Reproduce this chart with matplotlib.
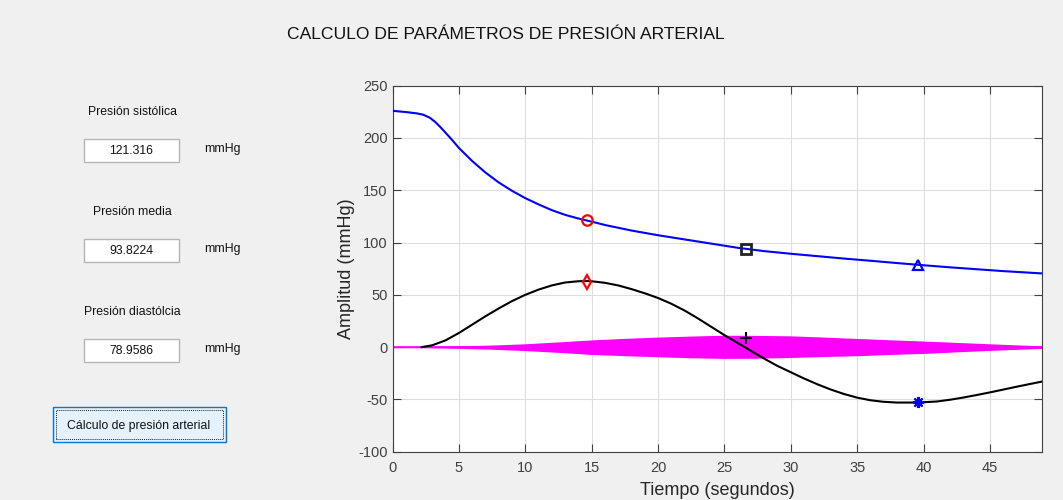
import matplotlib
matplotlib.use("Agg")
import matplotlib.pyplot as plt
from matplotlib.patches import Rectangle

plt.rcParams['font.family'] = ['Liberation Sans', 'DejaVu Sans']
plt.rcParams['axes.unicode_minus'] = False

# Cuff pressure (blue), time in seconds
t_cuff = [0, 1, 1.8, 2.3, 2.8, 3.2, 3.6, 4, 4.5, 5, 6, 7, 8, 9, 10, 11, 12, 13, 14, 15,
          16, 18, 20, 22, 24, 26, 28, 30, 32, 34, 36, 38, 40, 42, 44, 46, 48.9]
p_cuff = [226, 224.8, 223.6, 222.3, 219.5, 215.5, 210.5, 205, 198, 190.5, 178, 167,
          157.5, 149.5, 142.5, 136.5, 131, 126.5, 123, 120, 116.8, 111.5, 107, 103, 99,
          95, 91.8, 89.3, 87, 84.7, 82.6, 80.4, 78.3, 76.3, 74.5, 72.7, 70.5]

# Smoothed oscillation curve (black)
t_osc = [2.2, 3, 4, 5, 6, 7, 8, 9, 10, 11, 12, 13, 14, 14.6, 15, 16, 17, 18, 19,
         20, 21, 22, 23, 24, 25, 26, 27, 28, 29, 30, 31, 32, 33, 34, 35, 36, 37,
         38, 39.5, 41, 42, 43, 44, 45, 46, 47, 48, 48.9]
v_osc = [0, 1.8, 6.5, 13.5, 21.5, 29.5, 37, 44, 50, 55, 59, 61.8, 63, 63.2, 63, 61.5,
         59, 55.5, 51.5, 47, 41.5, 35, 27.5, 19.5, 11.5, 4, -3.5, -11, -18, -24,
         -30, -35.5, -40.5, -44.8, -48.3, -50.8, -52.3, -53, -53, -52, -50.3,
         -48.2, -45.8, -43.3, -40.6, -37.9, -35.3, -33]

# Envelope of the pressure oscillations (magenta)
t_env = [0, 2.3, 5, 7.5, 10, 12.5, 15, 17.5, 20, 22.5, 25, 27.5, 30, 32.5, 35,
         37.5, 40, 42.5, 45, 47.5, 48.9]
env_top = [0.6, 0.6, 1.2, 2, 3.2, 5, 6.9, 8.4, 9.6, 10.6, 11.4, 11.2, 10.8, 9.6,
           8.3, 7, 5.8, 4.5, 3.2, 1.9, 1.2]
env_bot = [-0.6, -0.6, -1.2, -2, -3.3, -5, -7, -8.2, -9.2, -10.2, -10.8, -10.6,
           -9.9, -9, -8.2, -7, -6, -4.5, -3.1, -1.9, -1.2]

# Detected points
t_sys, p_sys, osc_sys = 14.63, 121.316, 62.5
t_mean, p_mean, env_mean = 26.64, 93.8224, 9
t_dia, p_dia, osc_dia = 39.55, 78.9586, -52.8

title = "CALCULO DE PARÁMETROS DE PRESIÓN ARTERIAL"
fields = [("Presión sistólica", "121.316"),
          ("Presión media", "93.8224"),
          ("Presión diastólcia", "78.9586")]
button_label = "Cálculo de presión arterial"

W, H = 1063, 500
fig = plt.figure(figsize=(W / 100, H / 100), dpi=100, facecolor='#f0f0f0')


def fx(x):
    return x / W


def fy(y):
    return 1 - y / H


fig.text(fx(505.5), fy(34), title, fontsize=12.6, color='#111111',
         ha='center', va='center')

# Left control panel
gui = dict(fontsize=8.8, color='#111111', va='center')
label_y = [112, 212, 312]
box_y = [139, 239, 339]
for (lab, val), ly, by in zip(fields, label_y, box_y):
    fig.text(fx(132), fy(ly), lab, ha='center', **gui)
    fig.patches.append(Rectangle((fx(84), fy(by + 23)), 95 / W, 23 / H,
                                 transform=fig.transFigure, facecolor='white',
                                 edgecolor='#b4b4b4', lw=1))
    fig.text(fx(131.5), fy(by + 12), val, ha='center', **gui)
    fig.text(fx(204), fy(by + 10), "mmHg", ha='left', **gui)

fig.patches.append(Rectangle((fx(53), fy(442)), 173 / W, 35 / H,
                             transform=fig.transFigure, facecolor='#e5f1fb',
                             edgecolor='#0078d7', lw=1))
fig.patches.append(Rectangle((fx(56), fy(439)), 167 / W, 29 / H,
                             transform=fig.transFigure, facecolor='none',
                             edgecolor='#222222', lw=0.7, ls=(0, (1, 1))))
fig.text(fx(139), fy(426.5), button_label, ha='center', **gui)

# Main axes
ax = fig.add_axes([392.5 / W, 1 - 451.7 / H, (1041.7 - 392.5) / W, (451.7 - 85.7) / H])
ax.set_facecolor('white')

ax.fill_between(t_env, env_top, env_bot, color='#ff00ff', lw=0, zorder=2)
ax.plot(t_env, [0] * len(t_env), color='#ff00ff', lw=1.2, zorder=2)
ax.plot(t_cuff, p_cuff, color='#0000ff', lw=1.5, zorder=3)
ax.plot(t_osc, v_osc, color='black', lw=1.5, zorder=3)

mk = dict(ms=7.5, mew=1.6, mfc='none', ls='none', zorder=4)
ax.plot([t_sys], [p_sys], marker='o', mec='red', **mk)
ax.plot([t_sys], [osc_sys], marker='d', mec='red', **mk)
ax.plot([t_mean], [p_mean], marker='s', mec='#222222', ms=6.5, mew=2, mfc='none',
        ls='none', zorder=4)
ax.plot([t_mean], [env_mean], marker='+', mec='black', ms=8, mew=1.5, ls='none', zorder=4)
ax.plot([t_dia], [p_dia], marker='^', mec='#0000ff', **mk)
ax.plot([t_dia], [osc_dia], marker=(8, 2, 0), mec='#0000ff', ms=8, mew=1.5, ls='none', zorder=4)

ax.set_xlim(0, 48.9)
ax.set_ylim(-100, 250)
ax.set_xticks(range(0, 50, 5))
ax.set_yticks(range(-100, 251, 50))
ax.grid(True, color='#dedede', lw=0.8)
ax.set_axisbelow(True)
ax.tick_params(direction='in', length=6, width=0.8, top=True, right=True,
               colors='#404040', labelsize=10.5, labelcolor='#404040')
ax.tick_params(axis='x', pad=7)
for s in ax.spines.values():
    s.set_color('#404040')
    s.set_linewidth(0.8)

ax.set_xlabel("Tiempo (segundos)", fontsize=13, color='#262626', labelpad=5)
ax.set_ylabel("Amplitud (mmHg)", fontsize=13, color='#262626', labelpad=2)

fig.savefig("out.png", dpi=100, facecolor=fig.get_facecolor())
